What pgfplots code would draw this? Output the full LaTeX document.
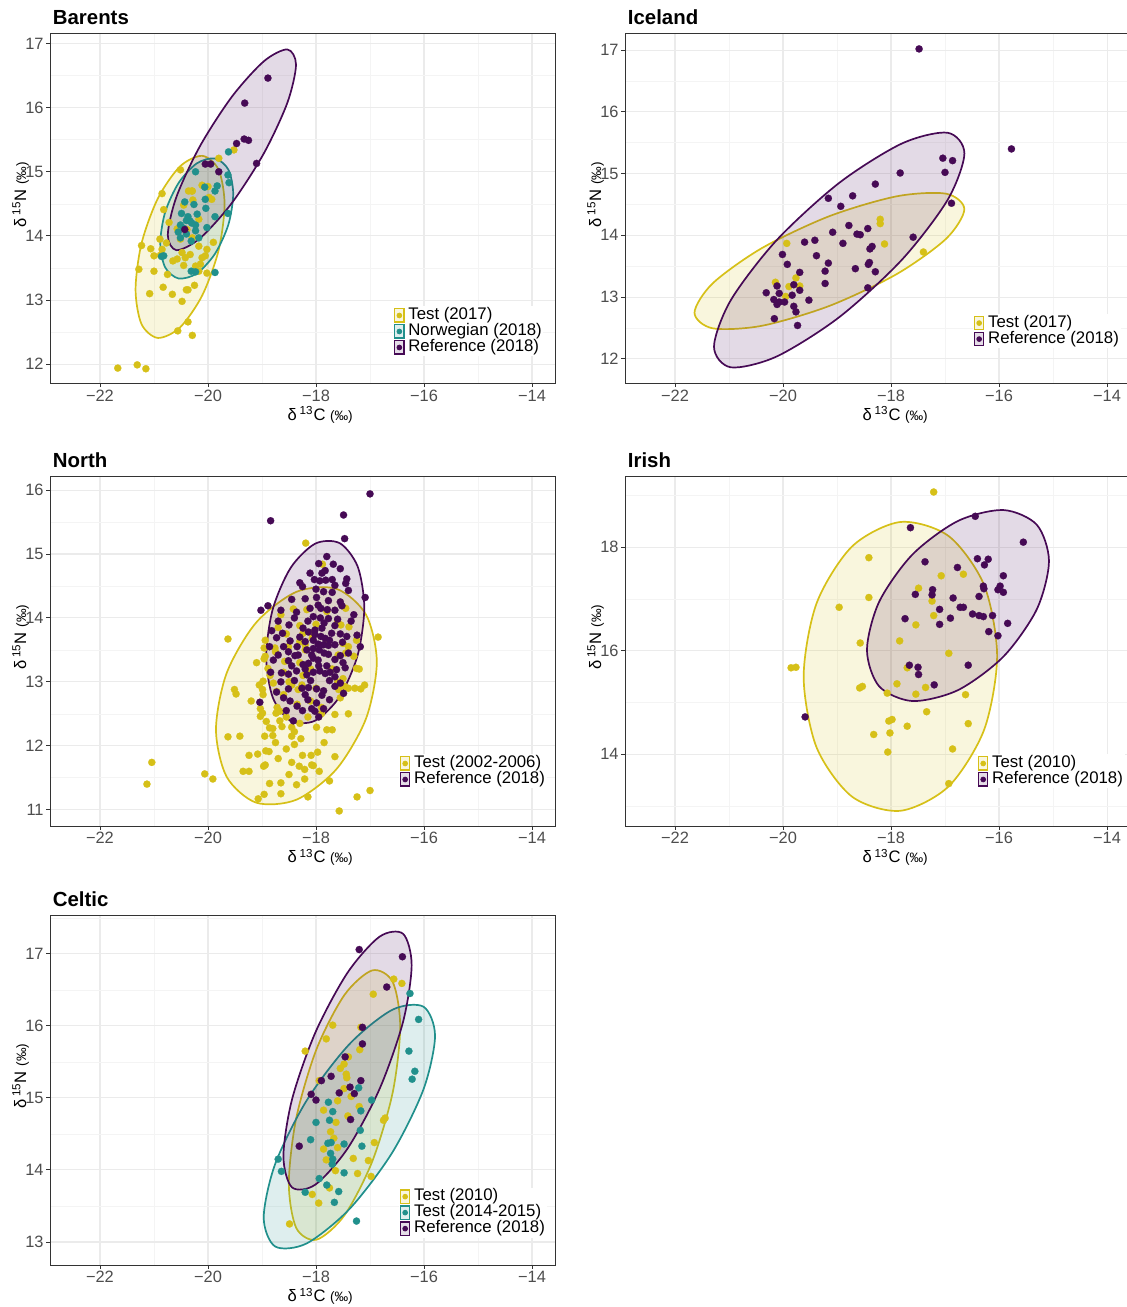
\documentclass[border=0pt]{standalone}
\usepackage{fontspec}
\setmainfont{Liberation Sans}
\usepackage{pgfplots}
\pgfplotsset{compat=1.18}

\definecolor{ycol}{HTML}{D6C018}
\definecolor{tcol}{HTML}{21908C}
\definecolor{pcol}{HTML}{460A55}
\definecolor{grey92}{HTML}{EBEBEB}
\definecolor{grey96}{HTML}{F4F4F4}
\definecolor{grey20}{HTML}{333333}
\definecolor{grey30}{HTML}{4D4D4D}

\newcommand{\dC}{δ\,\textsuperscript{13}C {\fontsize{6.8}{7}\selectfont(‰)}}
\newcommand{\dN}{δ\,\textsuperscript{15}N {\fontsize{6.8}{7}\selectfont(‰)}}

\pgfplotsset{
  panel/.style={
    scale only axis, width=252.5pt, height=175pt,
    anchor=south west,
    xmin=-22.925, xmax=-13.575,
    xtick={-22,-20,-18,-16,-14},
    xticklabels={−22,−20,−18,−16,−14},
    minor xtick={-21,-19,-17,-15},
    grid=both,
    major grid style={grey92, line width=0.55pt},
    minor grid style={grey96, line width=0.3pt},
    axis line style={grey20, line width=0.45pt},
    major tick style={grey20, line width=0.45pt},
    minor tick length=0pt, major tick length=1.8pt,
    tick align=outside,
    xtick pos=lower, ytick pos=left,
    ticklabel style={font=\fontsize{8.2}{9}\selectfont, text=grey30, inner sep=1.2pt},
    xlabel={\dC}, ylabel={\dN},
    every axis x label/.style={at={(axis description cs:0.535,-0.1057)}, anchor=base, font=\fontsize{8.3}{9}\selectfont},
    every axis y label/.style={at={(axis description cs:-0.0475,0.539)}, rotate=90, anchor=base, font=\fontsize{8.3}{9}\selectfont},
    every axis title shift=0pt,
    title style={at={(axis description cs:0.005,1.0246)}, anchor=base west, font=\bfseries\fontsize{10.2}{11}\selectfont, inner sep=0pt},
    legend cell align=left,
    legend style={draw=none, fill=white, font=\fontsize{8.4}{9}\selectfont, anchor=south east,
      inner sep=0.5pt, row sep=0pt, nodes={inner sep=0.3pt, text height=5.8pt, text depth=1.6pt},
      /tikz/every odd column/.append style={column sep=1.6pt}},
  },
  pts/.style={only marks, mark=*, mark size=1.8pt, color=#1, mark options={line width=0.1pt}, forget plot},
  ell/.style={smooth cycle, draw=#1, line width=0.85pt, fill=#1, fill opacity=0.15, draw opacity=1, forget plot},
  ellkey/.style={legend image code/.code={
      \draw[draw=#1, line width=0.6pt, fill=#1!14] (0pt,-3.3pt) rectangle (4.6pt,3.3pt);
      \fill[#1] (2.3pt,0pt) circle (1.2pt);}},
}

\begin{document}
\begin{tikzpicture}
\useasboundingbox (0,0) rectangle (563pt,653.5pt);

% ---------------- Barents ----------------
\begin{axis}[panel, at={(25pt,461.75pt)}, title={Barents},
  ymin=11.7, ymax=17.155, ytick={12,...,17}, yticklabels={12,13,14,15,16,17},
  minor ytick={12.5,13.5,14.5,15.5,16.5},
  legend style={at={(axis description cs:0.978,0.076)}}]
\addlegendimage{ellkey=ycol}\addlegendentry{Test (2017)}
\addlegendimage{ellkey=tcol}\addlegendentry{Norwegian (2018)}
\addlegendimage{ellkey=pcol}\addlegendentry{Reference (2018)}
\addplot[pts=ycol] coordinates {
(-21.67,11.94) (-21.31,11.99) (-21.15,11.93) (-20.29,12.45) (-20.56,12.52) (-20.37,12.66)
(-20.48,12.98) (-21.08,13.10) (-20.66,13.09) (-20.40,13.16) (-20.37,13.16) (-20.83,13.20)
(-20.25,13.23) (-21.28,13.48) (-21.00,13.45) (-20.75,13.40) (-21.23,13.85) (-21.06,13.80)
(-21.00,13.69) (-20.88,13.70) (-20.89,13.95) (-20.85,13.79) (-20.77,13.89) (-20.82,14.41)
(-20.85,14.66) (-20.51,15.03) (-20.36,14.70) (-20.29,14.70) (-20.45,14.48) (-20.11,14.79)
(-19.93,14.57) (-20.17,14.26) (-20.57,14.11) (-20.51,13.95) (-20.48,13.74) (-20.57,13.64)
(-20.42,13.66) (-20.33,13.71) (-20.17,13.84) (-20.11,13.66) (-20.23,13.53) (-20.14,13.56)
(-20.05,13.69) (-20.45,13.54) (-20.65,13.61) (-20.29,13.97) (-20.02,13.79) (-19.90,13.90)
(-20.72,14.21) (-20.39,14.10) (-20.17,13.45) (-20.02,13.42) (-19.52,15.34) (-19.80,15.21)
(-20.30,14.70) (-20.00,14.77) (-19.98,14.60) (-20.28,14.56)
};
\addplot[pts=tcol] coordinates {
(-20.23,15.00) (-19.62,15.31) (-19.63,14.95) (-19.61,14.83) (-20.06,14.76) (-19.87,14.70)
(-19.83,14.78) (-20.43,14.53) (-20.26,14.49) (-20.05,14.57) (-20.04,14.43) (-20.49,14.35)
(-20.37,14.30) (-20.20,14.34) (-20.40,14.24) (-20.33,14.23) (-20.51,14.17) (-20.23,14.17)
(-20.02,14.13) (-19.87,14.30) (-20.55,14.06) (-20.40,14.03) (-20.23,14.08) (-20.51,13.97)
(-20.31,13.92) (-20.17,13.97) (-20.82,13.69) (-20.23,13.44) (-19.87,13.43) (-19.63,14.35)
(-20.31,13.45) (-20.86,13.68) (-20.30,14.20) (-20.45,14.12)
};
\addplot[pts=pcol] coordinates {
(-18.89,16.46) (-19.32,16.07) (-19.33,15.51) (-19.25,15.49) (-19.47,15.44) (-19.10,15.13)
(-20.05,15.12) (-19.95,15.12) (-19.80,15.00) (-20.43,14.10)
};
\addplot[ell=ycol] coordinates {
(-19.693,14.494) (-19.803,15.032) (-20.105,15.248) (-20.517,15.084) (-20.929,14.583) (-21.231,13.881)
(-21.341,13.164) (-21.231,12.626) (-20.929,12.410) (-20.517,12.574) (-20.105,13.075) (-19.803,13.777)
};
\addplot[ell=tcol] coordinates {
(-19.533,14.656) (-19.623,15.034) (-19.871,15.207) (-20.208,15.130) (-20.546,14.823) (-20.793,14.369)
(-20.883,13.888) (-20.793,13.510) (-20.546,13.337) (-20.208,13.414) (-19.871,13.721) (-19.623,14.175)
};
\addplot[ell=pcol] coordinates {
(-18.370,16.670) (-18.529,16.906) (-18.964,16.723) (-19.557,16.170) (-20.151,15.395) (-20.585,14.606)
(-20.744,14.014) (-20.585,13.778) (-20.151,13.961) (-19.557,14.514) (-18.964,15.289) (-18.529,16.078)
};
\end{axis}

% ---------------- Iceland ----------------
\begin{axis}[panel, at={(312.5pt,461.75pt)}, title={Iceland},
  ymin=11.6, ymax=17.27, ytick={12,...,17}, yticklabels={12,13,14,15,16,17},
  minor ytick={12.5,13.5,14.5,15.5,16.5},
  legend style={at={(axis description cs:0.982,0.10)}}]
\addlegendimage{ellkey=ycol}\addlegendentry{Test (2017)}
\addlegendimage{ellkey=pcol}\addlegendentry{Reference (2018)}
\addplot[pts=ycol] coordinates {
(-19.93,13.87) (-18.20,14.26) (-18.20,14.19) (-18.12,13.86) (-17.40,13.73) (-20.14,13.24)
(-19.89,13.17) (-19.76,13.31) (-19.69,13.18) (-19.95,13.01)
};
\addplot[pts=pcol] coordinates {
(-17.48,17.02) (-15.77,15.40) (-17.04,15.25) (-16.86,15.21) (-17.00,15.02) (-17.83,15.01)
(-18.29,14.83) (-18.71,14.64) (-19.16,14.60) (-18.93,14.47) (-16.88,14.52) (-18.78,14.16)
(-18.43,14.11) (-18.63,14.02) (-18.57,14.01) (-19.08,14.05) (-17.59,13.97) (-19.41,13.92)
(-19.60,13.89) (-18.89,13.87) (-18.35,13.82) (-18.39,13.78) (-20.01,13.69) (-19.38,13.67)
(-19.92,13.53) (-19.16,13.55) (-18.40,13.56) (-18.42,13.53) (-18.66,13.46) (-18.29,13.41)
(-19.22,13.42) (-19.69,13.40) (-20.11,13.18) (-19.80,13.20) (-19.22,13.22) (-18.43,13.15)
(-20.31,13.07) (-20.07,13.06) (-19.69,13.11) (-19.83,13.03) (-20.17,12.96) (-20.07,12.92)
(-19.97,12.92) (-20.11,12.88) (-19.52,12.95) (-19.80,12.85) (-19.76,12.76) (-20.16,12.65)
(-19.73,12.54)
};
\addplot[ell=ycol] coordinates {
(-16.642,14.423) (-16.977,14.674) (-17.891,14.633) (-19.140,14.311) (-20.389,13.794) (-21.303,13.221)
(-21.638,12.746) (-21.303,12.494) (-20.389,12.535) (-19.140,12.857) (-17.891,13.374) (-16.977,13.947)
};
\addplot[ell=pcol] coordinates {
(-16.641,15.328) (-16.952,15.662) (-17.800,15.487) (-18.959,14.850) (-20.118,13.921) (-20.966,12.950)
(-21.277,12.196) (-20.966,11.862) (-20.118,12.037) (-18.959,12.674) (-17.800,13.603) (-16.952,14.574)
};
\end{axis}

% ---------------- North ----------------
\begin{axis}[panel, at={(25pt,240.5pt)}, title={North},
  ymin=10.745, ymax=16.22, ytick={11,...,16}, yticklabels={11,12,13,14,15,16},
  minor ytick={11.5,12.5,13.5,14.5,15.5},
  legend style={at={(axis description cs:0.984,0.106)}}]
\addlegendimage{ellkey=ycol}\addlegendentry{Test (2002-2006)}
\addlegendimage{ellkey=pcol}\addlegendentry{Reference (2018)}
\addplot[pts=ycol] coordinates {
(-18.19,15.17) (-17.88,14.84) (-18.17,14.13) (-18.42,14.14) (-19.63,13.67) (-16.85,13.70)
(-17.54,13.89) (-17.39,13.86) (-18.30,13.88) (-18.24,13.76) (-18.08,13.76) (-18.94,13.65)
(-18.96,13.53) (-18.94,13.40) (-18.30,13.63) (-18.20,13.58) (-18.07,13.68) (-17.59,13.42)
(-17.40,13.55) (-18.76,13.53) (-18.75,13.47) (-18.51,13.55)
(-18.96,13.36) (-18.89,13.21) (-18.58,13.32) (-18.24,13.10) (-18.26,12.95) (-18.33,12.88)
(-18.45,12.95) (-18.42,13.01) (-18.79,12.98) (-18.73,12.85) (-18.98,13.01) (-18.99,12.88)
(-18.98,12.80) (-19.51,12.88) (-19.48,12.81) (-19.03,12.58) (-18.99,12.51) (-19.03,12.46)
(-18.74,12.51) (-18.67,12.54) (-18.72,12.60) (-18.92,12.38) (-18.67,12.39) (-18.63,12.30)
(-18.86,12.28) (-18.80,12.27) (-18.95,12.15) (-18.80,12.16) (-19.63,12.14) (-19.41,12.15)
(-18.45,12.29) (-18.40,12.22) (-18.45,12.15) (-18.28,12.11) (-18.40,12.02) (-17.99,12.29)
(-17.65,12.49) (-17.47,12.93) (-17.58,12.88) (-17.28,12.90) (-17.17,12.89) (-17.25,13.21)
(-19.24,11.85) (-19.08,11.87) (-18.93,11.92) (-18.87,11.91) (-18.97,11.68) (-18.94,11.70)
(-19.24,11.60) (-18.45,11.74) (-18.31,11.68) (-18.21,11.63) (-18.08,11.70) (-18.05,11.69)
(-17.97,11.90) (-17.94,11.60) (-18.09,11.85) (-17.65,11.83) (-18.86,11.41) (-18.65,11.42)
(-18.36,11.39) (-18.21,11.48) (-18.96,11.24) (-19.07,11.17) (-20.06,11.56) (-19.91,11.48)
(-17.00,11.30) (-17.24,11.20) (-17.57,10.98) (-21.13,11.40) (-21.04,11.74)
(-18.00,13.90) (-17.80,14.10) (-18.30,13.30) (-17.60,13.00) (-18.10,12.70) (-17.90,12.60)
(-18.50,13.00) (-17.50,13.60) (-17.70,13.20) (-18.20,13.50) (-17.40,12.90) (-17.20,13.20)
(-17.10,12.95) (-17.40,12.50) (-17.90,12.50) (-18.10,13.20) (-17.80,13.60) (-18.60,12.80)
(-17.60,13.95) (-17.50,13.05)
(-18.55,13.75) (-18.70,13.85) (-18.85,13.10) (-18.60,13.15) (-18.35,12.65) (-18.15,12.45)
(-18.55,12.45) (-18.30,12.35) (-18.75,12.05) (-18.55,11.95) (-18.25,11.85) (-18.70,11.80)
(-18.50,11.55) (-17.85,12.05) (-17.80,12.25) (-17.55,12.75) (-17.30,13.40) (-17.25,13.65)
(-17.45,14.15) (-18.65,14.05) (-19.10,13.30) (-19.05,12.95) (-18.65,11.25) (-18.15,11.20)
(-17.75,11.45) (-19.35,11.60) (-17.70,12.25) (-18.00,12.90) (-19.20,12.70) (-17.45,13.45)
};
\addplot[pts=pcol] coordinates {
(-17.00,15.94) (-17.49,15.61) (-18.84,15.52) (-17.47,15.24) (-17.80,14.96) (-17.68,14.84)
(-17.55,14.77) (-18.11,14.70) (-17.89,14.70) (-17.83,14.74) (-18.03,14.60) (-17.93,14.58)
(-17.82,14.59) (-17.43,14.61) (-17.45,14.54) (-17.65,14.51) (-18.25,14.49) (-17.40,14.43)
(-17.86,14.41) (-17.09,14.32) (-19.02,14.12) (-18.89,14.19) (-17.99,14.32) (-17.77,14.27)
(-17.55,14.25) (-17.52,14.19) (-18.45,14.29) (-18.65,14.12) (-18.36,14.09) (-18.11,14.15)
(-17.96,14.20) (-17.91,14.15) (-17.79,14.13) (-17.65,14.12) (-18.05,14.02) (-17.92,14.00)
(-17.77,13.99) (-18.50,13.89) (-18.62,13.76) (-18.24,13.84) (-18.14,13.78) (-18.02,13.81)
(-17.89,13.84) (-17.65,13.88) (-18.02,13.74) (-17.91,13.71) (-17.83,13.68) (-17.71,13.76)
(-17.43,13.71) (-17.24,13.73) (-18.73,13.69) (-18.86,13.55) (-18.48,13.64) (-18.20,13.63)
(-17.96,13.59) (-17.86,13.58) (-17.77,13.57) (-17.65,13.58) (-17.51,13.62) (-18.17,13.50)
(-17.94,13.50) (-17.77,13.43) (-17.55,13.41) (-17.40,13.45) (-17.18,13.55) (-18.70,13.42)
(-18.51,13.47) (-18.33,13.42) (-18.08,13.42)
(-18.79,13.34) (-18.51,13.33) (-18.39,13.41) (-18.24,13.27) (-18.14,13.29) (-18.05,13.37)
(-17.96,13.34) (-18.84,13.15) (-18.64,13.14) (-18.51,13.12) (-18.36,13.17) (-18.17,13.11)
(-18.05,13.15) (-17.93,13.17) (-17.83,13.13) (-17.74,13.15) (-17.62,13.19) (-17.65,13.08)
(-17.46,13.22) (-18.73,12.84) (-18.51,12.89) (-18.26,12.90) (-18.14,12.91) (-17.99,12.89)
(-17.86,12.86) (-17.89,12.79) (-18.20,12.80) (-17.65,12.93) (-17.49,12.82) (-19.04,12.68)
(-18.48,12.70) (-17.99,12.67) (-18.08,12.58) (-18.02,12.54) (-17.86,12.58) (-18.42,12.39)
(-18.30,14.55) (-18.00,14.45) (-17.70,14.40) (-18.40,14.00) (-18.15,13.95) (-17.85,13.92)
(-17.60,13.98) (-18.30,13.70) (-18.05,13.65) (-17.75,13.65) (-17.55,13.75) (-18.60,13.55)
(-18.35,13.55) (-18.05,13.52) (-17.85,13.45) (-17.65,13.35) (-17.50,13.30) (-18.45,13.25)
(-18.20,13.20) (-17.95,13.25) (-17.80,13.25) (-18.65,13.00) (-18.40,13.02) (-18.10,13.02)
(-17.75,13.02) (-17.55,12.98) (-18.60,12.75) (-18.35,12.62) (-18.15,12.72) (-17.75,12.72)
(-18.25,12.55) (-17.95,12.45) (-18.55,12.55) (-17.35,13.95) (-17.30,14.05) (-18.70,13.95)
(-18.82,13.80) (-17.70,14.60) (-17.95,14.85) (-18.20,14.30)
};
\addplot[ell=ycol] coordinates {
(-16.874,13.309) (-17.074,14.051) (-17.619,14.454) (-18.363,14.408) (-19.108,13.927) (-19.653,13.139)
(-19.852,12.255) (-19.653,11.513) (-19.108,11.110) (-18.363,11.156) (-17.619,11.637) (-17.074,12.425)
};
\addplot[ell=pcol] coordinates {
(-17.106,14.162) (-17.228,14.803) (-17.560,15.169) (-18.014,15.162) (-18.468,14.785) (-18.800,14.138)
(-18.922,13.394) (-18.800,12.754) (-18.468,12.388) (-18.014,12.394) (-17.560,12.771) (-17.228,13.419)
};
\end{axis}

% ---------------- Irish ----------------
\begin{axis}[panel, at={(312.5pt,240.5pt)}, title={Irish},
  ymin=12.61, ymax=19.38, ytick={14,16,18}, yticklabels={14,16,18},
  minor ytick={13,15,17,19},
  legend style={at={(axis description cs:0.99,0.106)}}]
\addlegendimage{ellkey=ycol}\addlegendentry{Test (2010)}
\addlegendimage{ellkey=pcol}\addlegendentry{Reference (2018)}
\addplot[pts=ycol] coordinates {
(-17.21,19.07) (-18.41,17.80) (-18.41,17.03) (-18.96,16.84) (-16.66,17.48) (-17.07,17.45)
(-17.49,17.21) (-17.24,16.96) (-17.21,16.68) (-17.54,16.50) (-18.57,16.15) (-17.84,16.19)
(-16.93,15.95) (-19.85,15.67) (-19.76,15.68) (-17.70,15.67) (-18.58,15.28) (-18.53,15.31)
(-18.07,15.18) (-17.89,15.36) (-17.54,15.16) (-17.36,15.29) (-16.62,15.15) (-17.34,14.82)
(-18.04,14.64) (-17.98,14.67) (-17.70,14.54) (-18.32,14.38) (-18.02,14.41) (-16.57,14.59)
(-16.86,14.10) (-18.06,14.04) (-16.93,13.43)
};
\addplot[pts=pcol] coordinates {
(-17.64,18.38) (-16.44,18.60) (-15.55,18.10) (-16.40,17.78) (-16.20,17.77) (-16.27,17.66)
(-16.77,17.61) (-17.37,17.72) (-15.92,17.45) (-16.29,17.25) (-16.28,17.20) (-15.98,17.25)
(-16.02,17.18) (-15.92,17.13) (-17.23,17.18) (-17.24,17.08) (-17.55,17.09) (-16.37,17.05)
(-16.85,17.02) (-16.66,16.84) (-16.72,16.84) (-17.10,16.80) (-16.49,16.71) (-16.37,16.68)
(-16.29,16.66) (-16.12,16.68) (-17.74,16.62) (-16.90,16.63) (-17.10,16.51) (-15.84,16.53)
(-16.19,16.37) (-16.02,16.29) (-17.66,15.72) (-17.50,15.68) (-17.49,15.54) (-16.57,15.72)
(-17.20,15.34) (-19.59,14.72)
};
\addplot[ell=ycol] coordinates {
(-16.035,15.897) (-16.275,17.267) (-16.931,18.216) (-17.826,18.490) (-18.722,18.016) (-19.377,16.920)
(-19.617,15.497) (-19.377,14.127) (-18.722,13.178) (-17.826,12.904) (-16.931,13.378) (-16.275,14.474)
};
\addplot[ell=pcol] coordinates {
(-15.075,17.734) (-15.301,18.437) (-15.918,18.721) (-16.760,18.510) (-17.603,17.861) (-18.219,16.947)
(-18.445,16.014) (-18.219,15.311) (-17.603,15.027) (-16.760,15.238) (-15.918,15.887) (-15.301,16.801)
};
\end{axis}

% ---------------- Celtic ----------------
\begin{axis}[panel, at={(25pt,21pt)}, title={Celtic},
  ymin=12.68, ymax=17.54, ytick={13,...,17}, yticklabels={13,14,15,16,17},
  minor ytick={13.5,14.5,15.5,16.5,17.5},
  legend style={at={(axis description cs:0.984,0.077)}}]
\addlegendimage{ellkey=ycol}\addlegendentry{Test (2010)}
\addlegendimage{ellkey=tcol}\addlegendentry{Test (2014-2015)}
\addlegendimage{ellkey=pcol}\addlegendentry{Reference (2018)}
\addplot[pts=ycol] coordinates {
(-16.56,16.65) (-16.41,16.59) (-16.94,16.44) (-17.17,15.98) (-17.69,16.01) (-17.81,15.82)
(-18.20,15.65) (-17.19,15.67) (-17.40,15.57) (-17.55,15.41) (-17.48,15.47) (-17.44,15.33)
(-17.43,15.28) (-17.48,15.13) (-17.35,15.02) (-17.94,15.24) (-17.20,14.88) (-17.60,14.96)
(-17.86,14.83) (-17.41,14.75) (-17.63,14.66) (-16.75,14.69) (-16.72,14.72) (-17.73,14.53)
(-17.67,14.44) (-17.86,14.29) (-17.60,14.31) (-17.81,14.14) (-17.72,14.13) (-17.31,14.16)
(-17.03,14.13) (-16.92,14.38) (-17.23,13.95) (-17.64,13.99) (-16.98,13.91) (-17.75,13.75)
(-18.07,13.66) (-17.95,13.54) (-18.49,13.25)
};
\addplot[pts=tcol] coordinates {
(-16.26,16.45) (-16.10,16.09) (-16.28,15.65) (-16.17,15.37) (-16.22,15.26) (-17.21,15.14)
(-16.97,14.97) (-17.17,14.82) (-17.77,14.94) (-17.69,14.81) (-17.75,14.69) (-18.00,14.66)
(-17.18,14.55) (-18.10,14.42) (-17.78,14.37) (-17.72,14.38) (-17.48,14.36) (-17.15,14.33)
(-17.73,14.23) (-17.69,14.15) (-17.70,14.08) (-17.48,13.96) (-18.70,14.15) (-18.64,13.98)
(-17.94,13.88) (-17.80,13.79) (-17.58,13.70) (-17.66,13.55) (-18.20,13.69) (-17.25,13.29)
};
\addplot[pts=pcol] coordinates {
(-17.20,17.06) (-16.40,16.96) (-16.69,16.54) (-17.14,15.98) (-17.46,15.57) (-17.14,15.75)
(-17.72,15.30) (-17.90,15.24) (-17.37,15.15) (-17.29,15.06) (-18.09,15.05) (-17.57,15.07)
(-18.00,14.97) (-17.17,15.24) (-17.36,14.70) (-18.31,14.33)
};
\addplot[ell=ycol] coordinates {
(-16.441,15.990) (-16.579,16.609) (-16.957,16.771) (-17.472,16.431) (-17.988,15.682) (-18.365,14.723)
(-18.503,13.812) (-18.365,13.193) (-17.988,13.032) (-17.472,13.371) (-16.957,14.121) (-16.579,15.079)
};
\addplot[ell=tcol] coordinates {
(-15.796,15.862) (-16.009,16.266) (-16.589,16.223) (-17.382,15.746) (-18.175,14.962) (-18.756,14.082)
(-18.968,13.340) (-18.756,12.937) (-18.175,12.979) (-17.382,13.456) (-16.589,14.240) (-16.009,15.121)
};
\addplot[ell=pcol] coordinates {
(-16.229,16.846) (-16.388,17.279) (-16.823,17.239) (-17.416,16.739) (-18.010,15.911) (-18.444,14.979)
(-18.603,14.190) (-18.444,13.758) (-18.010,13.797) (-17.416,14.297) (-16.823,15.125) (-16.388,16.057)
};
\end{axis}
\end{tikzpicture}
\end{document}
